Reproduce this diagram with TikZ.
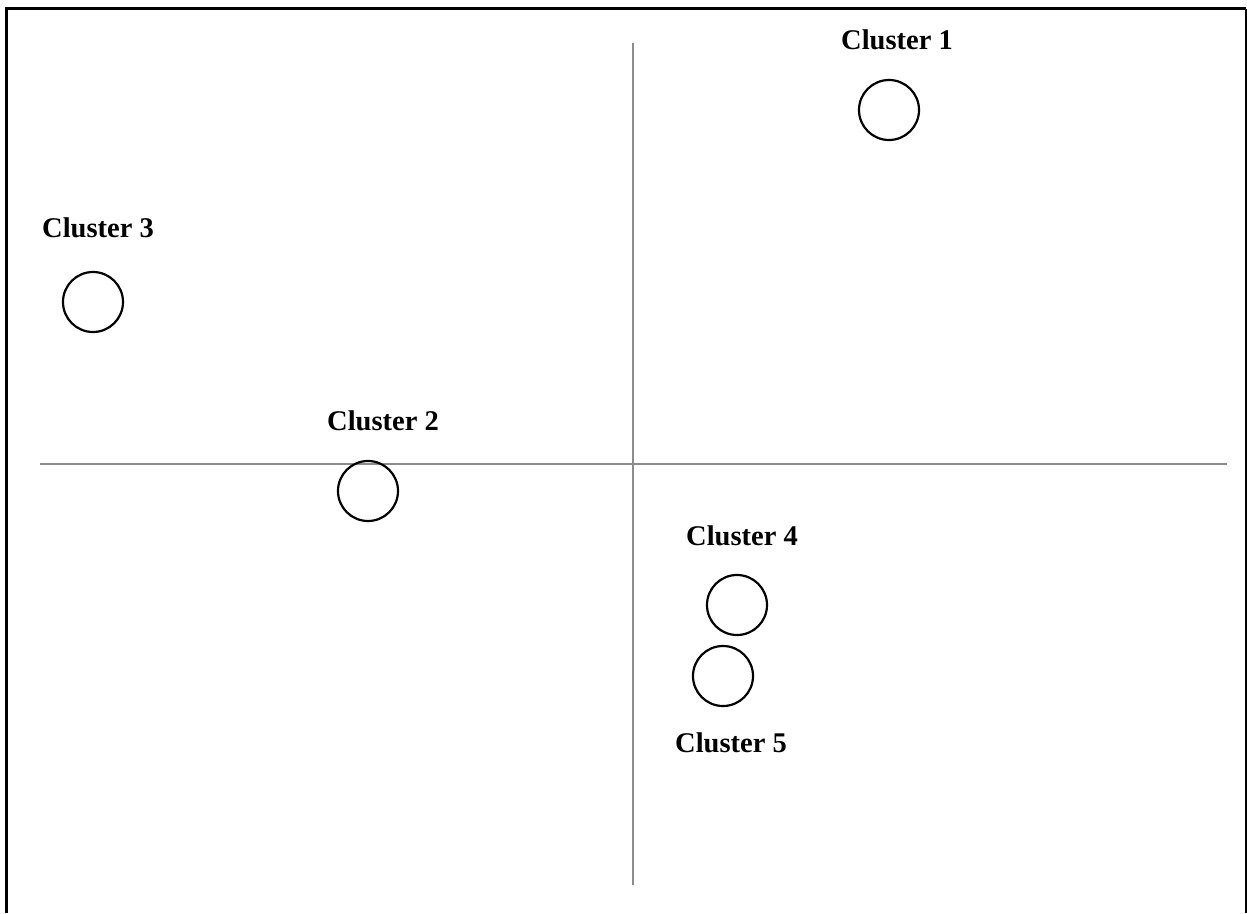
\documentclass[tikz,border=0pt]{standalone}
\usepackage{fontspec}
\setmainfont{Liberation Serif}
\begin{document}
\begin{tikzpicture}[x=1pt,y=-1pt,
  cl/.style={circle,draw=black,line width=2.2pt,minimum size=60pt,inner sep=0pt},
  lbl/.style={font=\fontsize{28.5}{30}\selectfont\bfseries,inner sep=0pt},
  axis/.style={draw=gray!90,line width=1.5pt}]
\useasboundingbox (0,0) rectangle (1247,913);
\draw[line width=3pt] (6.5,913) -- (6.5,8.5) -- (1245.5,8.5);
\draw[line width=2pt] (1245.5,8.5) -- (1245.5,913);
\coordinate (vt) at (633,43);
\coordinate (vb) at (633,885);
\coordinate (hl) at (40,464);
\coordinate (hr) at (1227,464);
\draw[axis] (vt) -- (vb);
\draw[axis] (hl) -- (hr);
\node[cl] (c1) at (889,110) {};
\node[cl] (c3) at (93,302) {};
\node[cl] (c2) at (368,491) {};
\node[cl] (c4) at (737,605) {};
\node[cl] (c5) at (723,676) {};
\node[lbl] (l1) at (897,40) {Cluster 1};
\node[lbl] (l3) at (98,228) {Cluster 3};
\node[lbl] (l2) at (383,421) {Cluster 2};
\node[lbl] (l4) at (742,536) {Cluster 4};
\node[lbl] (l5) at (731,743) {Cluster 5};
\end{tikzpicture}
\end{document}
